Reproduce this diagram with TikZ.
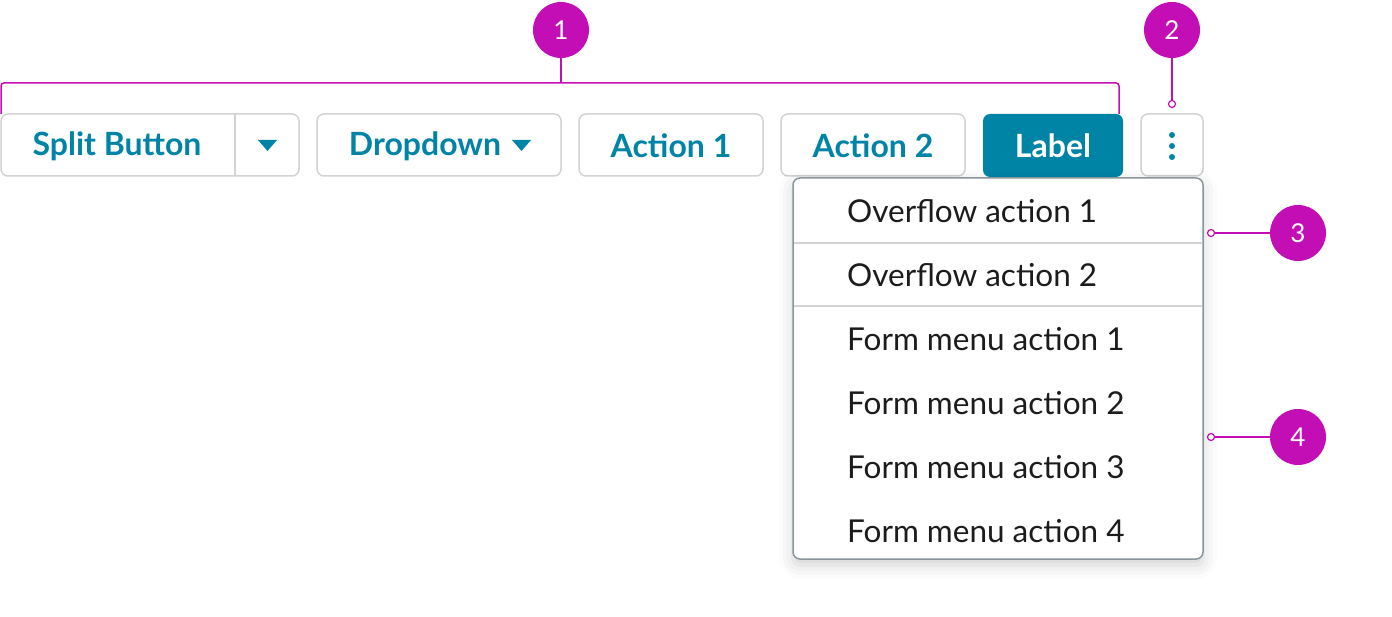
\documentclass[tikz,border=0pt]{standalone}
\usepackage{fontspec}
\setmainfont{Lato}
\usetikzlibrary{positioning,shadows.blur}
\definecolor{teal}{HTML}{0084A6}
\definecolor{magenta}{HTML}{C40EB5}
\definecolor{btnborder}{HTML}{D3D3D3}
\definecolor{menuborder}{HTML}{8A959C}
\definecolor{ink}{HTML}{1C1C1C}
\begin{document}
\begin{tikzpicture}[x=1pt,y=-1pt]
    \tikzstyle{btn}=[draw=btnborder,line width=1.5pt,rounded corners=7pt]
    \tikzstyle{btntext}=[text=teal,font=\fontsize{32}{36}\selectfont\bfseries]
    \tikzstyle{item}=[anchor=west,inner sep=0pt,text=ink,font=\fontsize{31.5}{36}\selectfont]
    \tikzstyle{badge}=[shape=circle,fill=magenta,minimum size=56pt,inner sep=0pt,text=white,font=\fontsize{26}{30}\selectfont]
    \tikzstyle{dot}=[shape=circle,draw=magenta,fill=white,line width=1.2pt,minimum size=7pt,inner sep=0pt]
    \tikzstyle{lead}=[draw=magenta,line width=1.5pt]

    \useasboundingbox (0,0) rectangle (1392,617);

    % buttons
    \draw[btn] (1,114) rectangle (299,176);
    \draw[btnborder,line width=1.5pt] (235,114) -- (235,176);
    \node[btntext] (B0) at (117,146) {Split Button};
    \fill[teal] (258,140) -- (277,140) -- (267.5,151) -- cycle;
    \draw[btn] (317,114) rectangle (561,176);
    \node[btntext] (B1) at (425,146) {Dropdown};
    \fill[teal] (512,140) -- (531,140) -- (521.5,151) -- cycle;
    \draw[btn] (579,114) rectangle (763,176);
    \node[btntext] (B2) at (671,146) {Action 1};
    \draw[btn] (781,114) rectangle (965,176);
    \node[btntext] (B3) at (873,146) {Action 2};
    \fill[teal,rounded corners=7pt] (983,114) rectangle (1123,177);
    \node[btntext,text=white] (B4) at (1053,146) {Label};
    \draw[btn] (1141,114) rectangle (1203,176);
    \foreach \y in {135,146,157}
        \fill[teal] (1172,\y) circle (3pt);

    % overflow menu
    \draw[draw=menuborder,fill=white,line width=1.5pt,rounded corners=7pt,
          blur shadow={shadow xshift=0pt,shadow yshift=-6pt,shadow blur radius=14pt,shadow opacity=18}]
        (793,178) rectangle (1203,559);
    \draw[btnborder,line width=1.5pt] (794,243) -- (1202,243);
    \draw[btnborder,line width=1.5pt] (794,306) -- (1202,306);
    \node[item] (M1) at (847,211) {Overflow action 1};
    \node[item] (M2) at (847,275) {Overflow action 2};
    \foreach \i/\y in {1/339,2/403,3/467,4/531}
        \node[item] (F\i) at (847,\y) {Form menu action \i};

    % callouts
    \node[badge] (C1) at (561,30) {1};
    \node[badge] (C2) at (1172,30) {2};
    \node[badge] (C3) at (1298,233) {3};
    \node[badge] (C4) at (1298,437) {4};
    \coordinate (L1) at (1,114);
    \coordinate (R1) at (1119,114);
    \draw[lead,rounded corners=3pt] (L1) |- (561,83) -| (R1);
    \draw[lead] (C1) -- (561,83);
    \node[dot] (D2) at (1172,104) {};
    \node[dot] (D3) at (1211,233) {};
    \node[dot] (D4) at (1211,437) {};
    \draw[lead] (C2) -- (D2);
    \draw[lead] (D3) -- (C3);
    \draw[lead] (D4) -- (C4);
\end{tikzpicture}
\end{document}
